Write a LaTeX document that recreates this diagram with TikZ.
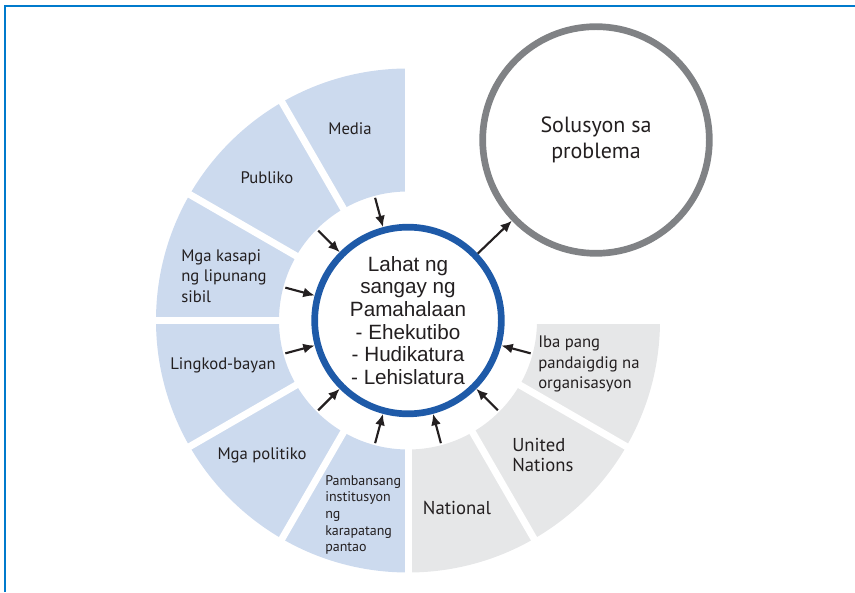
\documentclass[tikz,border=0pt]{standalone}
\usepackage{fontspec}
\setmainfont{Liberation Sans}
\newfontfamily\labelfont{PT Sans}
\usetikzlibrary{arrows.meta}
\definecolor{frameblue}{RGB}{0,122,204}
\definecolor{govblue}{RGB}{30,90,168}
\definecolor{secblue}{RGB}{204,218,238}
\definecolor{secgray}{RGB}{230,231,232}
\definecolor{ringgray}{RGB}{128,130,133}
\definecolor{arrblack}{RGB}{35,31,32}

\begin{document}
\begin{tikzpicture}[x=0.75pt,y=0.75pt,
  lbl/.style={font=\labelfont\fontsize{12.5}{15.5}\selectfont,
        align=left,text=arrblack,inner sep=0pt},
  ring/.style={circle,line width=5pt,fill=white,align=center,
        text=arrblack},
  arr/.style={arrblack,line width=1.6pt,-{Latex[length=8.5pt,width=7.5pt]}}]
 \useasboundingbox (0,0) rectangle (855,592);
 \draw[frameblue,line width=1.5pt] (5,0) -- (5,586) -- (855,586);
 % the wheel
 \begin{scope}[shift={(408,271.5)}]
  \fill[secblue] (90:129) -- (90:252) arc[start angle=90,end angle=270,radius=252]
    -- (270:129) arc[start angle=270,end angle=90,radius=129] -- cycle;
  \fill[secgray] (270:129) -- (270:252) arc[start angle=270,end angle=360,radius=252]
    -- (0:129) arc[start angle=360,end angle=270,radius=129] -- cycle;
  \foreach \a in {90,120,...,360}
   \draw[white,line width=5.25pt] (\a:120) -- (\a:262);
  \node[ring,draw=govblue,minimum size=140pt,
    font=\fontsize{15.5}{17}\selectfont] (govt) at (0,0)
    {Lahat ng\\sangay ng\\Pamahalaan\\- Ehekutibo\\- Hudikatura\\- Lehislatura};
  \foreach \a in {105,135,...,345}
   \coordinate (t\a) at (\a:127);
 \end{scope}
 \node[ring,draw=ringgray,minimum size=170pt,
   font=\labelfont\fontsize{16.5}{19.5}\selectfont] (sol) at (596,452)
   {Solusyon sa\\problema};
 % labels
 \node[lbl] (media) at (350,463) {Media};
 \node[lbl] (publiko) at (267,414) {Publiko};
 \node[lbl,anchor=west] (kasapi) at (181,316) {Mga kasapi\\ng lipunang\\sibil};
 \node[lbl] (lingkod) at (223,227) {Lingkod-bayan};
 \node[lbl] (politiko) at (262,137) {Mga politiko};
 \node[lbl,anchor=west,font=\labelfont\fontsize{10.5}{12.5}\selectfont] (pambansa)
   at (325,77) {Pambansang\\institusyon\\ng\\karapatang\\pantao};
 \node[lbl,font=\labelfont\fontsize{14}{16}\selectfont] (national) at (457,84) {National};
 \node[lbl,anchor=west,font=\labelfont\fontsize{14}{15.5}\selectfont] (un)
   at (512,137) {United\\Nations};
 \node[lbl,anchor=west] (iba) at (538,228) {Iba pang\\pandaigdig na\\organisasyon};
 % arrows
 \foreach \a in {105,135,...,345}
  \draw[arr] (t\a) -- (govt.\a);
 \draw[arr] (govt) -- (sol);
\end{tikzpicture}
\end{document}
